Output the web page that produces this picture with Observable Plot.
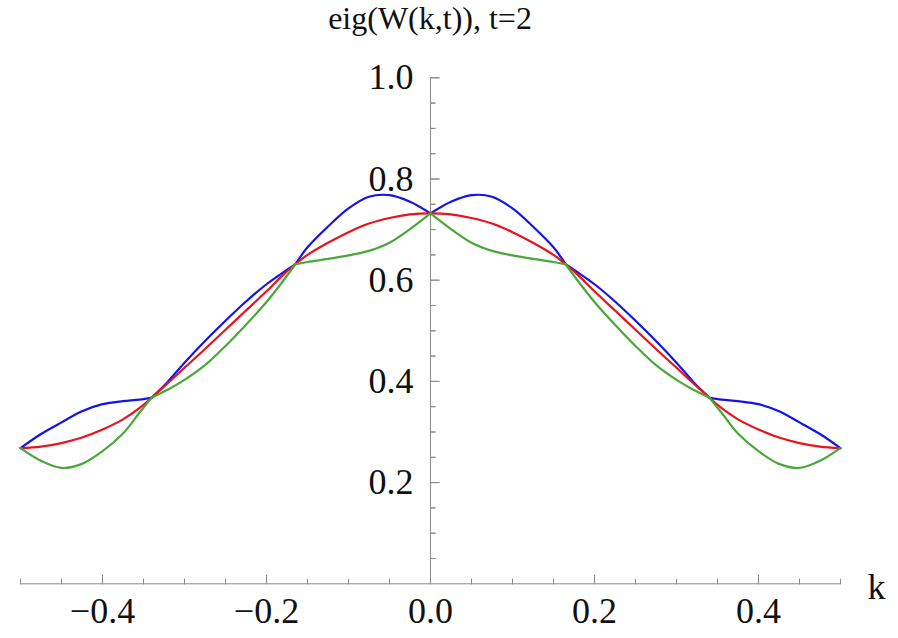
<!DOCTYPE html>
<html><head><meta charset="utf-8">
<script src="https://cdn.jsdelivr.net/npm/d3@7"></script>
<script src="https://cdn.jsdelivr.net/npm/@observablehq/plot@0.6"></script>
<style>
body{margin:0;background:#fff;}
#wrap{position:relative;width:898px;height:638px;overflow:hidden;}
#title{position:absolute;left:0;width:860px;top:0px;text-align:center;font-family:"Liberation Serif",serif;font-size:32px;color:#111;line-height:36px;}
#chart{position:absolute;left:0;top:0;}
</style></head><body>
<div id="wrap"><div id="chart"></div><div id="title">eig(W(k,t)), t=2</div></div>
<script>
// k values (x)
const k = [-0.5,-0.475,-0.45,-0.425,-0.4,-0.375,-0.355,-0.34,-0.32,-0.3,-0.275,-0.25,-0.225,-0.2,-0.18,-0.165,-0.15,-0.125,-0.1,-0.075,-0.05,-0.025,0,
           0.025,0.05,0.075,0.1,0.125,0.15,0.165,0.18,0.2,0.225,0.25,0.275,0.3,0.32,0.34,0.355,0.375,0.4,0.425,0.45,0.475,0.5];
// eigenvalue series
const blue = [0.268,0.296,0.319,0.341,0.355,0.361,0.364,0.368,0.400,0.437,0.480,0.520,0.558,0.592,0.615,0.631,0.665,0.706,0.742,0.765,0.768,0.755,0.732,
              0.755,0.768,0.765,0.742,0.706,0.665,0.631,0.615,0.592,0.558,0.520,0.480,0.437,0.400,0.368,0.364,0.361,0.355,0.341,0.319,0.296,0.268];
const red = [0.268,0.271,0.278,0.289,0.305,0.325,0.347,0.368,0.397,0.427,0.464,0.502,0.540,0.578,0.610,0.631,0.650,0.674,0.695,0.712,0.723,0.730,0.732,
             0.730,0.723,0.712,0.695,0.674,0.650,0.631,0.610,0.578,0.540,0.502,0.464,0.427,0.397,0.368,0.347,0.325,0.305,0.289,0.278,0.271,0.268];
const green = [0.268,0.243,0.229,0.237,0.262,0.297,0.338,0.368,0.384,0.403,0.432,0.470,0.512,0.557,0.598,0.631,0.636,0.642,0.649,0.658,0.674,0.701,0.732,
               0.701,0.674,0.658,0.649,0.642,0.636,0.631,0.598,0.557,0.512,0.470,0.432,0.403,0.384,0.368,0.338,0.297,0.262,0.237,0.229,0.243,0.268];
// crossing points where the sorted eigenvalues have kinks
const kinks = [-0.34,-0.165,0,0.165,0.34];
// ticks
const xMajor = [-0.4,-0.2,0,0.2,0.4];
const xMinor = [-0.5,-0.45,-0.35,-0.3,-0.25,-0.15,-0.1,-0.05,0.05,0.1,0.15,0.25,0.3,0.35,0.45,0.5];
const yMajor = [0.2,0.4,0.6,0.8,1.0];
const yMinor = [0.05,0.1,0.15,0.25,0.3,0.35,0.45,0.5,0.55,0.65,0.7,0.75,0.85,0.9,0.95];

const bounds = [-0.5, ...kinks, 0.5];
function pieces(vals){
  const rows = [];
  for (let s = 0; s < bounds.length - 1; s++) {
    k.forEach((kk, i) => {
      if (kk >= bounds[s] - 1e-9 && kk <= bounds[s+1] + 1e-9) rows.push({k: kk, v: vals[i], seg: s});
    });
  }
  return rows;
}
const redRows = k.map((kk, i) => ({k: kk, v: red[i]}));
const fmt = d3.format(".1f");
const axisColor = "#8a8a8a";
const font = "Liberation Serif, Times New Roman, serif";
const tick = (data, horizontal, len) => Plot.vector(data, {
  x: horizontal ? d => d : 0,
  y: horizontal ? 0 : d => d,
  length: len, rotate: horizontal ? 0 : 90, anchor: "start",
  shape: "spike", r: 0, stroke: axisColor, fill: "none", strokeWidth: 1
});

const chart = Plot.plot({
  width: 898, height: 638,
  marginLeft: 20, marginRight: 58, marginTop: 77.3, marginBottom: 54.7,
  x: {domain: [-0.5, 0.5], axis: null},
  y: {domain: [0, 1], axis: null},
  style: {background: "white"},
  marks: [
    Plot.ruleY([0], {stroke: axisColor, strokeWidth: 1}),
    Plot.ruleX([0], {stroke: axisColor, strokeWidth: 1}),
    tick(xMinor, true, 5),
    tick(xMajor, true, 9),
    tick(yMinor, false, 5),
    tick(yMajor, false, 9),
    Plot.text(xMajor, {x: d => d, y: 0, text: d => fmt(d), dy: 28, lineAnchor: "middle",
      fontSize: 36, fontFamily: font, fill: "#111"}),
    Plot.text(yMajor, {x: 0, y: d => d, text: d => fmt(d), dx: -17, textAnchor: "end", lineAnchor: "middle",
      fontSize: 36, fontFamily: font, fill: "#111"}),
    Plot.text(["k"], {frameAnchor: "bottom-right", dx: 45, dy: 4, lineAnchor: "middle",
      fontSize: 36, fontFamily: font, fill: "#111"}),
    Plot.line(pieces(blue), {x: "k", y: "v", z: "seg", stroke: "#1414e6", strokeWidth: 2.2, curve: "catmull-rom"}),
    Plot.line(redRows, {x: "k", y: "v", stroke: "#e6141e", strokeWidth: 2.2, curve: "catmull-rom"}),
    Plot.line(pieces(green), {x: "k", y: "v", z: "seg", stroke: "#4aa83a", strokeWidth: 2.2, curve: "catmull-rom"})
  ]
});
document.getElementById("chart").appendChild(chart);
</script>
</body></html>
